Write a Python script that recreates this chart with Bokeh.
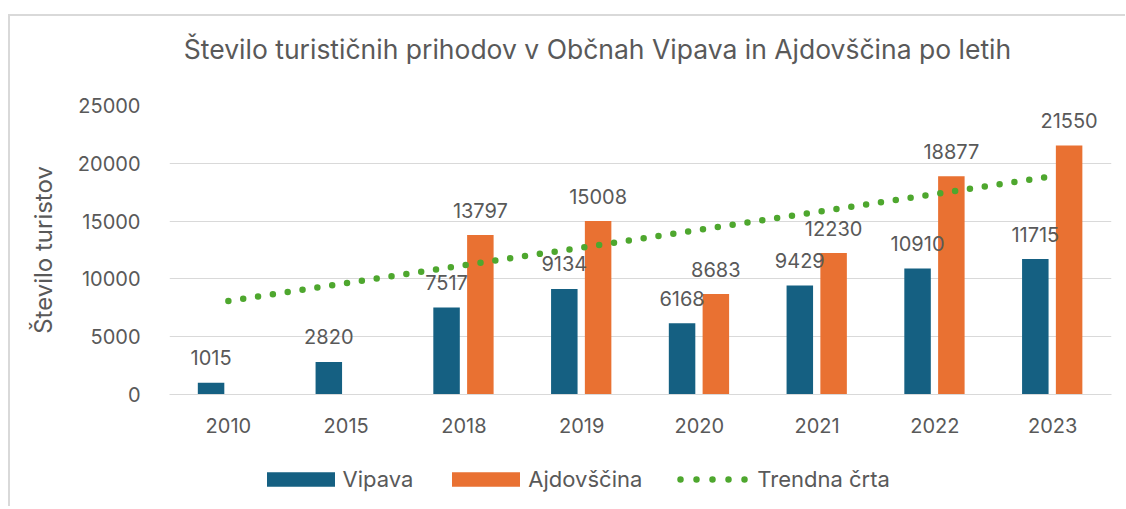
from bokeh.plotting import figure
from bokeh.layouts import column
from bokeh.models import (ColumnDataSource, LabelSet, Legend, LegendItem,
                          FixedTicker, Range1d)
from bokeh.transform import dodge
from bokeh.core.properties import value
from bokeh.embed import file_html
from bokeh.resources import INLINE

# ---- data ----
years = ["2010", "2015", "2018", "2019", "2020", "2021", "2022", "2023"]
vipava = [1015, 2820, 7517, 9134, 6168, 9429, 10910, 11715]
ajdovscina = [None, None, 13797, 15008, 8683, 12230, 18877, 21550]
trend_years = ["2010", "2023"]
trend_values = [8090, 18875]
y_ticks = [0, 5000, 10000, 15000, 20000, 25000]

title_text = "Število turističnih prihodov v Občnah Vipava in Ajdovščina po letih"
y_label = "Število turistov"
series_names = ["Vipava", "Ajdovščina", "Trendna črta"]

# ---- styles ----
C_VIP = "#156082"
C_AJD = "#E97132"
C_TREND = "#4EA72E"
C_TEXT = "#595959"
C_GRID = "#D9D9D9"
FONT = "Inter"
W = 1115
FL, FR = 159, 1101          # frame left / right in canvas pixels (shared by the column)
H_HEAD, H_MAIN, H_LEG = 69, 354, 67


def blank(height):
    # frame is aligned with the main chart's frame, so map x straight to canvas pixels
    f = figure(width=W, height=height, x_range=Range1d(FL, FR), y_range=Range1d(0, height),
               x_axis_type=None, y_axis_type=None, output_backend="svg",
               toolbar_location=None, min_border=0,
               min_border_left=FL, min_border_right=W - FR)
    f.outline_line_color = None
    return f


# ---- header with the title ----
head = blank(H_HEAD)
head.text(x=[587], y=[37], text=[title_text], text_align="center", text_baseline="middle",
          text_font=value(FONT), text_font_size="26.5px", text_color=C_TEXT)

# ---- main chart ----
vip_src = ColumnDataSource(dict(year=years, v=vipava, t=[str(v) for v in vipava]))
aj_years = [y for y, v in zip(years, ajdovscina) if v is not None]
aj_vals = [v for v in ajdovscina if v is not None]
aj_src = ColumnDataSource(dict(year=aj_years, v=aj_vals, t=[str(v) for v in aj_vals]))
tr_src = ColumnDataSource(dict(year=trend_years, v=trend_values))

p = figure(x_range=years, y_range=Range1d(0, 25000), width=W, height=H_MAIN,
           output_backend="svg", toolbar_location=None,
           min_border_left=FL, min_border_right=W - FR, min_border_top=20,
           min_border_bottom=45)

OFF_V, OFF_A, BW = -0.147, 0.14, 0.225
p.vbar(x=dodge("year", OFF_V, range=p.x_range), top="v", width=BW,
       source=vip_src, color=C_VIP, line_color=None)
p.vbar(x=dodge("year", OFF_A, range=p.x_range), top="v", width=BW,
       source=aj_src, color=C_AJD, line_color=None)
p.line(x="year", y="v", source=tr_src, line_color=C_TREND, line_width=6.5,
       line_dash="0 15", line_cap="round")

for src, off in ((vip_src, OFF_V), (aj_src, OFF_A)):
    p.add_layout(LabelSet(x=dodge("year", off, range=p.x_range), y="v", text="t",
                          source=src, y_offset=25, text_align="center",
                          text_baseline="middle", text_font=value(FONT),
                          text_font_size="20px", text_color=C_TEXT))

p.xgrid.grid_line_color = None
p.ygrid.grid_line_color = C_GRID
p.ygrid.grid_line_width = 1
p.outline_line_color = None

p.yaxis.ticker = FixedTicker(ticks=y_ticks)
p.yaxis.axis_line_color = None
p.yaxis.major_tick_line_color = None
p.yaxis.minor_tick_line_color = None
p.yaxis.major_label_standoff = 23
p.yaxis.axis_label = y_label
p.yaxis.axis_label_text_font = FONT
p.yaxis.axis_label_text_font_size = "24px"
p.yaxis.axis_label_text_font_style = "normal"
p.yaxis.axis_label_text_color = C_TEXT
p.yaxis.axis_label_standoff = 17

p.xaxis.axis_line_color = C_GRID
p.xaxis.major_tick_line_color = None
p.xaxis.minor_tick_line_color = None
p.xaxis.major_label_standoff = 17

for ax in (p.xaxis, p.yaxis):
    ax.major_label_text_font = FONT
    ax.major_label_text_font_size = "20px"
    ax.major_label_text_color = C_TEXT

# ---- legend strip (legend-only renderers, placed outside the visible range) ----
leg = blank(H_LEG)
l_v = leg.vbar(x=[0], top=[0], width=1, color=C_VIP, line_color=None)
l_a = leg.vbar(x=[0], top=[0], width=1, color=C_AJD, line_color=None)
l_t = leg.line(x=[0, 1], y=[0, 0], line_color=C_TREND, line_width=6.5, line_dash="0 16",
               line_dash_offset=8, line_cap="round")
legend = Legend(items=[LegendItem(label=series_names[0], renderers=[l_v]),
                       LegendItem(label=series_names[1], renderers=[l_a]),
                       LegendItem(label=series_names[2], renderers=[l_t])],
                orientation="horizontal", location=(247.5 - FL, 14),
                glyph_width=85, glyph_height=18, label_standoff=0, spacing=30,
                padding=0, margin=0, border_line_color=None,
                background_fill_alpha=0, label_height=24,
                label_text_font=FONT, label_text_font_size="22px",
                label_text_color=C_TEXT)
leg.add_layout(legend, "center")

layout = column(head, p, leg, spacing=0,
                styles={"border-top": f"2px solid {C_GRID}",
                        "border-left": f"2px solid {C_GRID}",
                        "margin-top": "14px", "margin-left": "8px"})

open("out.html", "w").write(file_html(layout, INLINE))
